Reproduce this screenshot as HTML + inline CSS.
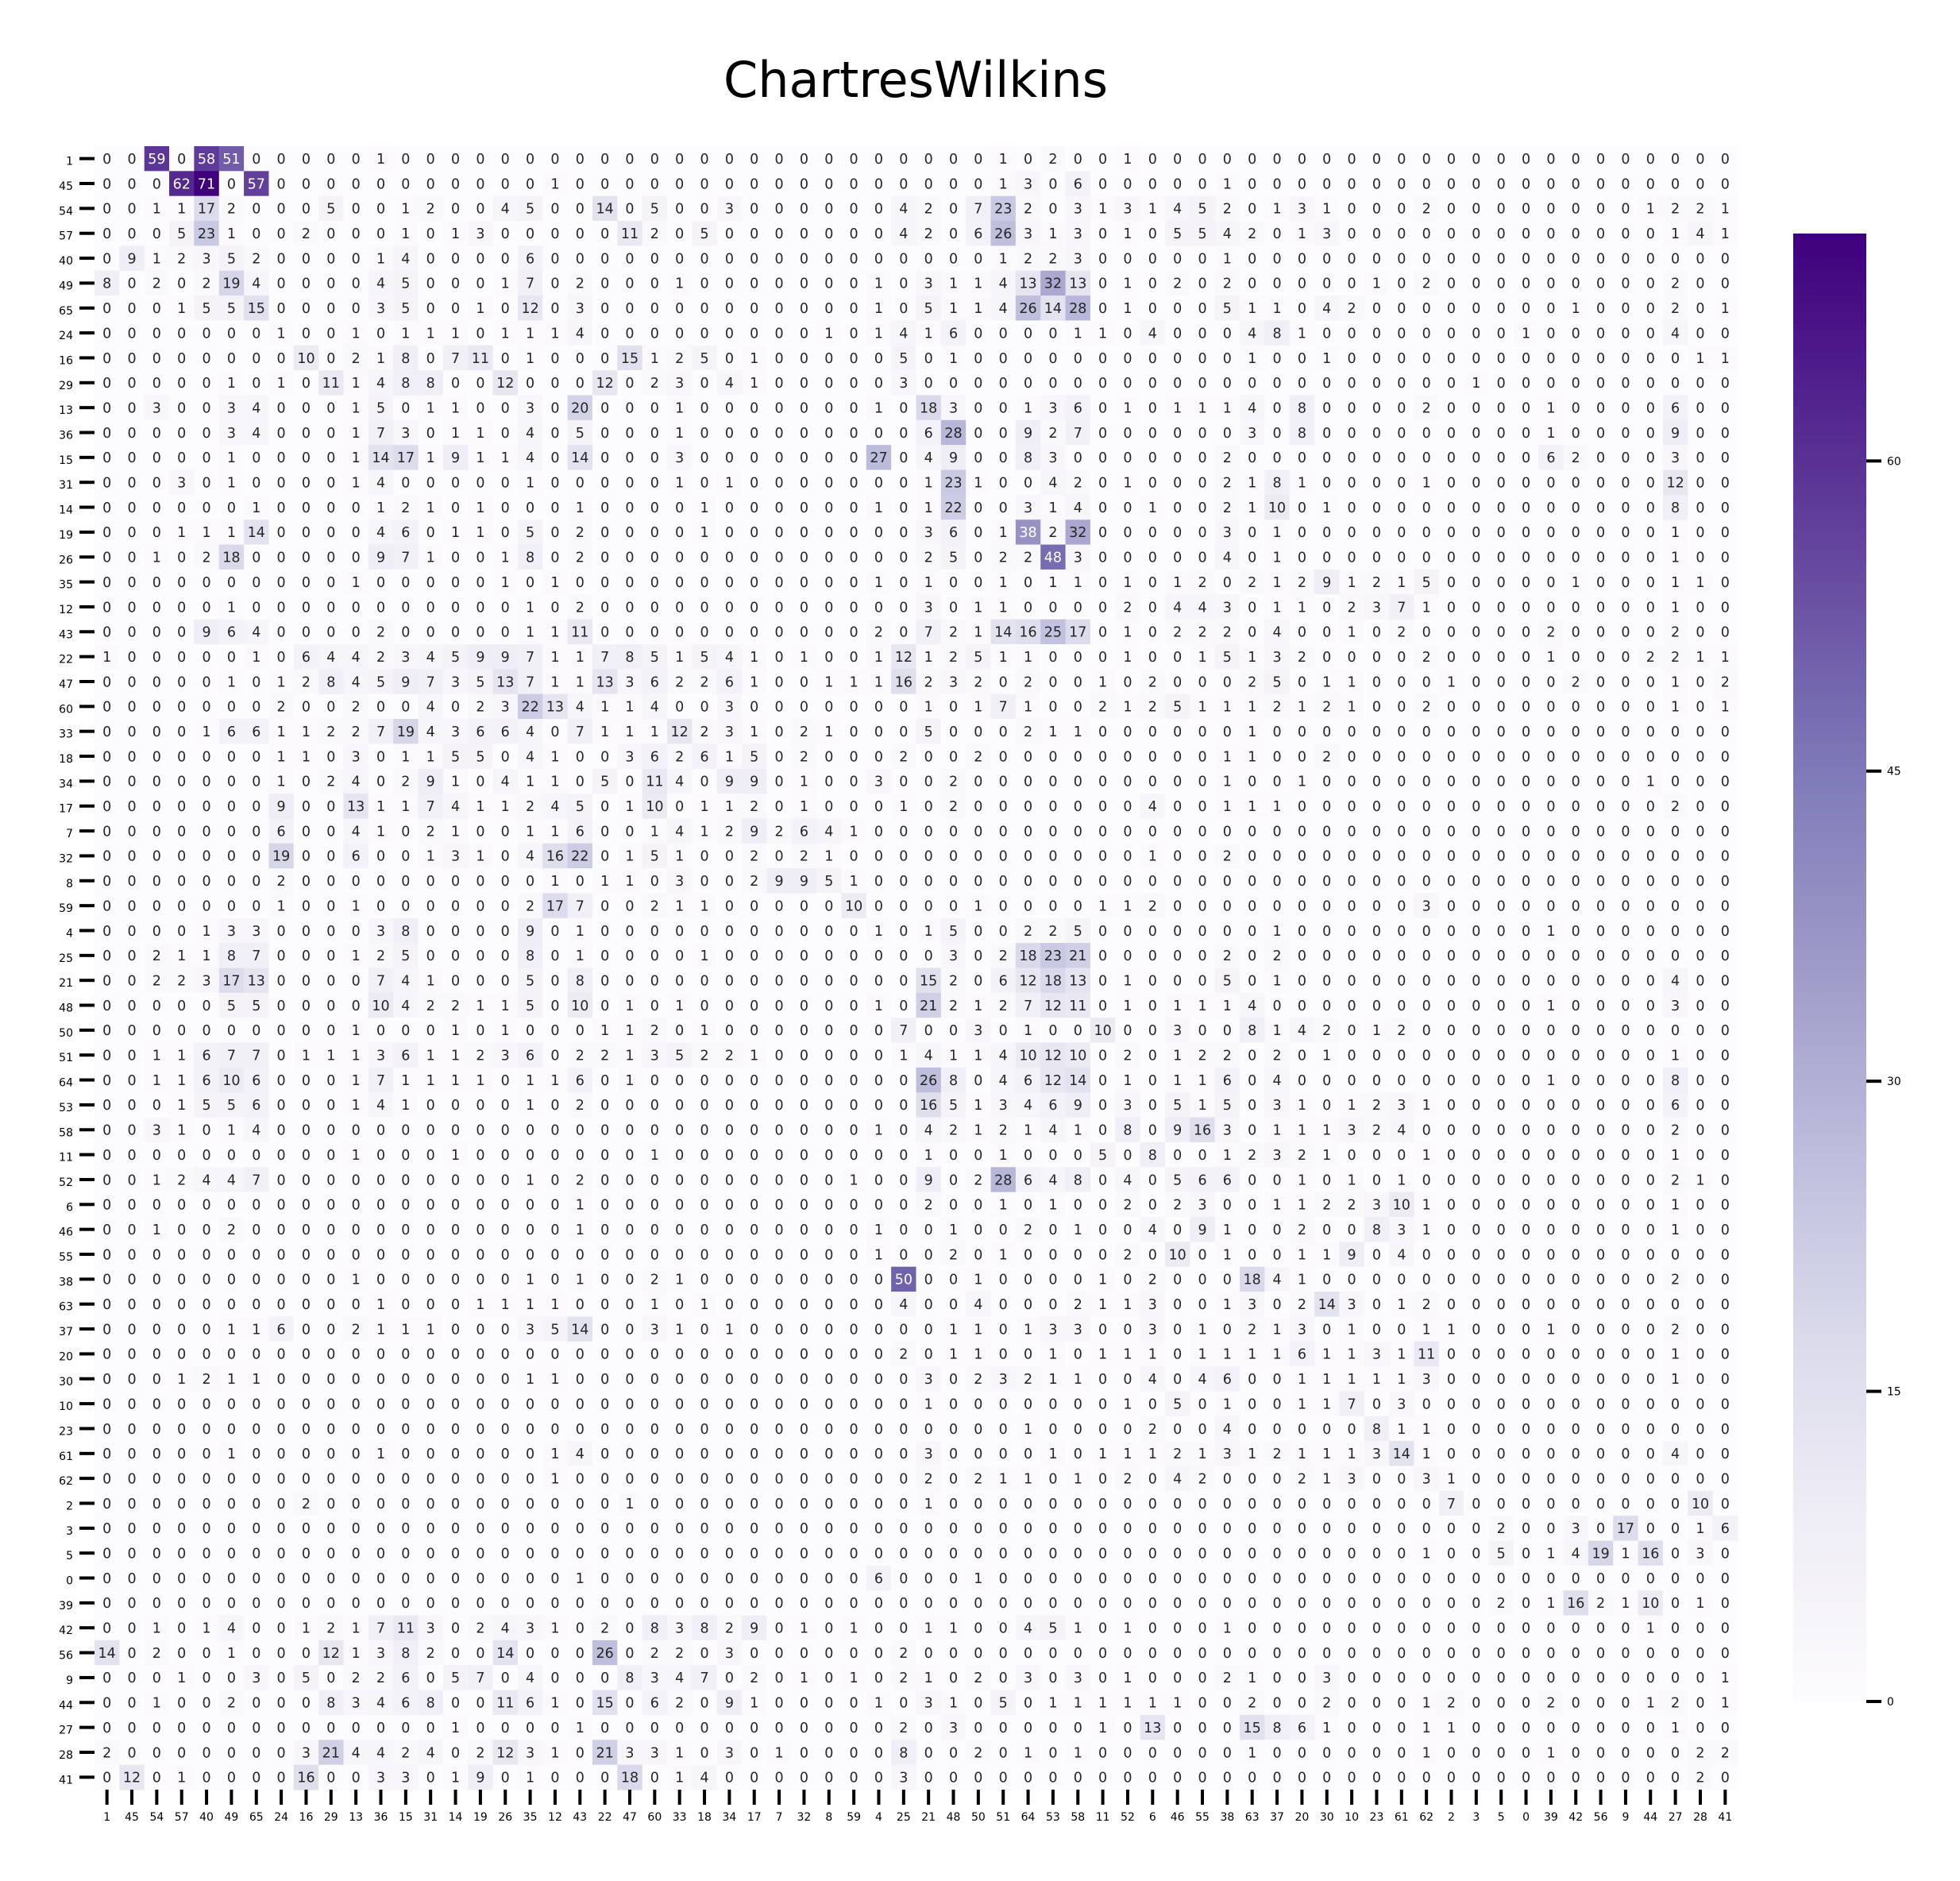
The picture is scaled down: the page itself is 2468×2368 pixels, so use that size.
<!DOCTYPE html>
<html><head><meta charset="utf-8">
<style>
html,body{margin:0;padding:0;background:#fff;}
svg{display:block;font-family:"DejaVu Sans","Liberation Sans",sans-serif;}
</style></head>
<body>
<svg id="chart" width="2468" height="2368" viewBox="0 0 2468 2368" xmlns="http://www.w3.org/2000/svg">
<defs>
<linearGradient id="cbgrad" x1="0" y1="1" x2="0" y2="0">
<stop offset="0" stop-color="#fcfbfd"/><stop offset="0.125" stop-color="#efedf5"/><stop offset="0.25" stop-color="#dadaeb"/><stop offset="0.375" stop-color="#bcbddc"/><stop offset="0.5" stop-color="#9e9ac8"/><stop offset="0.625" stop-color="#807dba"/><stop offset="0.75" stop-color="#6a51a3"/><stop offset="0.875" stop-color="#54278f"/><stop offset="1" stop-color="#3f007d"/>
</linearGradient>
</defs>
<rect width="2468" height="2368" fill="#fff"/>
<text x="1153" y="122" font-size="62" text-anchor="middle" fill="#000">ChartresWilkins</text>
<g id="cells"></g>
<g id="ylabels"></g>
<g id="xlabels"></g>
<g id="cbar">
<rect x="2258" y="294" width="92" height="1848" fill="url(#cbgrad)"/>
</g>
</svg>
<script>
const rowLabels = ["1","45","54","57","40","49","65","24","16","29","13","36","15","31","14","19","26","35","12","43","22","47","60","33","18","34","17","7","32","8","59","4","25","21","48","50","51","64","53","58","11","52","6","46","55","38","63","37","20","30","10","23","61","62","2","3","5","0","39","42","56","9","44","27","28","41"];
const colLabels = rowLabels.slice();
const cbTicks = [0,15,30,45,60];
const vmin = 0;
const vmax = 71;
const values = [
[0,0,59,0,58,51,0,0,0,0,0,1,0,0,0,0,0,0,0,0,0,0,0,0,0,0,0,0,0,0,0,0,0,0,0,0,1,0,2,0,0,1,0,0,0,0,0,0,0,0,0,0,0,0,0,0,0,0,0,0,0,0,0,0,0,0],
[0,0,0,62,71,0,57,0,0,0,0,0,0,0,0,0,0,0,1,0,0,0,0,0,0,0,0,0,0,0,0,0,0,0,0,0,1,3,0,6,0,0,0,0,0,1,0,0,0,0,0,0,0,0,0,0,0,0,0,0,0,0,0,0,0,0],
[0,0,1,1,17,2,0,0,0,5,0,0,1,2,0,0,4,5,0,0,14,0,5,0,0,3,0,0,0,0,0,0,4,2,0,7,23,2,0,3,1,3,1,4,5,2,0,1,3,1,0,0,0,2,0,0,0,0,0,0,0,0,1,2,2,1],
[0,0,0,5,23,1,0,0,2,0,0,0,1,0,1,3,0,0,0,0,0,11,2,0,5,0,0,0,0,0,0,0,4,2,0,6,26,3,1,3,0,1,0,5,5,4,2,0,1,3,0,0,0,0,0,0,0,0,0,0,0,0,0,1,4,1],
[0,9,1,2,3,5,2,0,0,0,0,1,4,0,0,0,0,6,0,0,0,0,0,0,0,0,0,0,0,0,0,0,0,0,0,0,1,2,2,3,0,0,0,0,0,1,0,0,0,0,0,0,0,0,0,0,0,0,0,0,0,0,0,0,0,0],
[8,0,2,0,2,19,4,0,0,0,0,4,5,0,0,0,1,7,0,2,0,0,0,1,0,0,0,0,0,0,0,1,0,3,1,1,4,13,32,13,0,1,0,2,0,2,0,0,0,0,0,1,0,2,0,0,0,0,0,0,0,0,0,2,0,0],
[0,0,0,1,5,5,15,0,0,0,0,3,5,0,0,1,0,12,0,3,0,0,0,0,0,0,0,0,0,0,0,1,0,5,1,1,4,26,14,28,0,1,0,0,0,5,1,1,0,4,2,0,0,0,0,0,0,0,0,1,0,0,0,2,0,1],
[0,0,0,0,0,0,0,1,0,0,1,0,1,1,1,0,1,1,1,4,0,0,0,0,0,0,0,0,0,1,0,1,4,1,6,0,0,0,0,1,1,0,4,0,0,0,4,8,1,0,0,0,0,0,0,0,0,1,0,0,0,0,0,4,0,0],
[0,0,0,0,0,0,0,0,10,0,2,1,8,0,7,11,0,1,0,0,0,15,1,2,5,0,1,0,0,0,0,0,5,0,1,0,0,0,0,0,0,0,0,0,0,0,1,0,0,1,0,0,0,0,0,0,0,0,0,0,0,0,0,0,1,1],
[0,0,0,0,0,1,0,1,0,11,1,4,8,8,0,0,12,0,0,0,12,0,2,3,0,4,1,0,0,0,0,0,3,0,0,0,0,0,0,0,0,0,0,0,0,0,0,0,0,0,0,0,0,0,0,1,0,0,0,0,0,0,0,0,0,0],
[0,0,3,0,0,3,4,0,0,0,1,5,0,1,1,0,0,3,0,20,0,0,0,1,0,0,0,0,0,0,0,1,0,18,3,0,0,1,3,6,0,1,0,1,1,1,4,0,8,0,0,0,0,2,0,0,0,0,1,0,0,0,0,6,0,0],
[0,0,0,0,0,3,4,0,0,0,1,7,3,0,1,1,0,4,0,5,0,0,0,1,0,0,0,0,0,0,0,0,0,6,28,0,0,9,2,7,0,0,0,0,0,0,3,0,8,0,0,0,0,0,0,0,0,0,1,0,0,0,0,9,0,0],
[0,0,0,0,0,1,0,0,0,0,1,14,17,1,9,1,1,4,0,14,0,0,0,3,0,0,0,0,0,0,0,27,0,4,9,0,0,8,3,0,0,0,0,0,0,2,0,0,0,0,0,0,0,0,0,0,0,0,6,2,0,0,0,3,0,0],
[0,0,0,3,0,1,0,0,0,0,1,4,0,0,0,0,0,1,0,0,0,0,0,1,0,1,0,0,0,0,0,0,0,1,23,1,0,0,4,2,0,1,0,0,0,2,1,8,1,0,0,0,0,1,0,0,0,0,0,0,0,0,0,12,0,0],
[0,0,0,0,0,0,1,0,0,0,0,1,2,1,0,1,0,0,0,1,0,0,0,0,1,0,0,0,0,0,0,1,0,1,22,0,0,3,1,4,0,0,1,0,0,2,1,10,0,1,0,0,0,0,0,0,0,0,0,0,0,0,0,8,0,0],
[0,0,0,1,1,1,14,0,0,0,0,4,6,0,1,1,0,5,0,2,0,0,0,0,1,0,0,0,0,0,0,0,0,3,6,0,1,38,2,32,0,0,0,0,0,3,0,1,0,0,0,0,0,0,0,0,0,0,0,0,0,0,0,1,0,0],
[0,0,1,0,2,18,0,0,0,0,0,9,7,1,0,0,1,8,0,2,0,0,0,0,0,0,0,0,0,0,0,0,0,2,5,0,2,2,48,3,0,0,0,0,0,4,0,1,0,0,0,0,0,0,0,0,0,0,0,0,0,0,0,1,0,0],
[0,0,0,0,0,0,0,0,0,0,1,0,0,0,0,0,1,0,1,0,0,0,0,0,0,0,0,0,0,0,0,1,0,1,0,0,1,0,1,1,0,1,0,1,2,0,2,1,2,9,1,2,1,5,0,0,0,0,0,1,0,0,0,1,1,0],
[0,0,0,0,0,1,0,0,0,0,0,0,0,0,0,0,0,1,0,2,0,0,0,0,0,0,0,0,0,0,0,0,0,3,0,1,1,0,0,0,0,2,0,4,4,3,0,1,1,0,2,3,7,1,0,0,0,0,0,0,0,0,0,1,0,0],
[0,0,0,0,9,6,4,0,0,0,0,2,0,0,0,0,0,1,1,11,0,0,0,0,0,0,0,0,0,0,0,2,0,7,2,1,14,16,25,17,0,1,0,2,2,2,0,4,0,0,1,0,2,0,0,0,0,0,2,0,0,0,0,2,0,0],
[1,0,0,0,0,0,1,0,6,4,4,2,3,4,5,9,9,7,1,1,7,8,5,1,5,4,1,0,1,0,0,1,12,1,2,5,1,1,0,0,0,1,0,0,1,5,1,3,2,0,0,0,0,2,0,0,0,0,1,0,0,0,2,2,1,1],
[0,0,0,0,0,1,0,1,2,8,4,5,9,7,3,5,13,7,1,1,13,3,6,2,2,6,1,0,0,1,1,1,16,2,3,2,0,2,0,0,1,0,2,0,0,0,2,5,0,1,1,0,0,0,1,0,0,0,0,2,0,0,0,1,0,2],
[0,0,0,0,0,0,0,2,0,0,2,0,0,4,0,2,3,22,13,4,1,1,4,0,0,3,0,0,0,0,0,0,0,1,0,1,7,1,0,0,2,1,2,5,1,1,1,2,1,2,1,0,0,2,0,0,0,0,0,0,0,0,0,1,0,1],
[0,0,0,0,1,6,6,1,1,2,2,7,19,4,3,6,6,4,0,7,1,1,1,12,2,3,1,0,2,1,0,0,0,5,0,0,0,2,1,1,0,0,0,0,0,0,1,0,0,0,0,0,0,0,0,0,0,0,0,0,0,0,0,0,0,0],
[0,0,0,0,0,0,0,1,1,0,3,0,1,1,5,5,0,4,1,0,0,3,6,2,6,1,5,0,2,0,0,0,2,0,0,2,0,0,0,0,0,0,0,0,0,1,1,0,0,2,0,0,0,0,0,0,0,0,0,0,0,0,0,0,0,0],
[0,0,0,0,0,0,0,1,0,2,4,0,2,9,1,0,4,1,1,0,5,0,11,4,0,9,9,0,1,0,0,3,0,0,2,0,0,0,0,0,0,0,0,0,0,1,0,0,1,0,0,0,0,0,0,0,0,0,0,0,0,0,1,0,0,0],
[0,0,0,0,0,0,0,9,0,0,13,1,1,7,4,1,1,2,4,5,0,1,10,0,1,1,2,0,1,0,0,0,1,0,2,0,0,0,0,0,0,0,4,0,0,1,1,1,0,0,0,0,0,0,0,0,0,0,0,0,0,0,0,2,0,0],
[0,0,0,0,0,0,0,6,0,0,4,1,0,2,1,0,0,1,1,6,0,0,1,4,1,2,9,2,6,4,1,0,0,0,0,0,0,0,0,0,0,0,0,0,0,0,0,0,0,0,0,0,0,0,0,0,0,0,0,0,0,0,0,0,0,0],
[0,0,0,0,0,0,0,19,0,0,6,0,0,1,3,1,0,4,16,22,0,1,5,1,0,0,2,0,2,1,0,0,0,0,0,0,0,0,0,0,0,0,1,0,0,2,0,0,0,0,0,0,0,0,0,0,0,0,0,0,0,0,0,0,0,0],
[0,0,0,0,0,0,0,2,0,0,0,0,0,0,0,0,0,0,1,0,1,1,0,3,0,0,2,9,9,5,1,0,0,0,0,0,0,0,0,0,0,0,0,0,0,0,0,0,0,0,0,0,0,0,0,0,0,0,0,0,0,0,0,0,0,0],
[0,0,0,0,0,0,0,1,0,0,1,0,0,0,0,0,0,2,17,7,0,0,2,1,1,0,0,0,0,0,10,0,0,0,0,1,0,0,0,0,1,1,2,0,0,0,0,0,0,0,0,0,0,3,0,0,0,0,0,0,0,0,0,0,0,0],
[0,0,0,0,1,3,3,0,0,0,0,3,8,0,0,0,0,9,0,1,0,0,0,0,0,0,0,0,0,0,0,1,0,1,5,0,0,2,2,5,0,0,0,0,0,0,0,1,0,0,0,0,0,0,0,0,0,0,1,0,0,0,0,0,0,0],
[0,0,2,1,1,8,7,0,0,0,1,2,5,0,0,0,0,8,0,1,0,0,0,0,1,0,0,0,0,0,0,0,0,0,3,0,2,18,23,21,0,0,0,0,0,2,0,2,0,0,0,0,0,0,0,0,0,0,0,0,0,0,0,0,0,0],
[0,0,2,2,3,17,13,0,0,0,0,7,4,1,0,0,0,5,0,8,0,0,0,0,0,0,0,0,0,0,0,0,0,15,2,0,6,12,18,13,0,1,0,0,0,5,0,1,0,0,0,0,0,0,0,0,0,0,0,0,0,0,0,4,0,0],
[0,0,0,0,0,5,5,0,0,0,0,10,4,2,2,1,1,5,0,10,0,1,0,1,0,0,0,0,0,0,0,1,0,21,2,1,2,7,12,11,0,1,0,1,1,1,4,0,0,0,0,0,0,0,0,0,0,0,1,0,0,0,0,3,0,0],
[0,0,0,0,0,0,0,0,0,0,1,0,0,0,1,0,1,0,0,0,1,1,2,0,1,0,0,0,0,0,0,0,7,0,0,3,0,1,0,0,10,0,0,3,0,0,8,1,4,2,0,1,2,0,0,0,0,0,0,0,0,0,0,0,0,0],
[0,0,1,1,6,7,7,0,1,1,1,3,6,1,1,2,3,6,0,2,2,1,3,5,2,2,1,0,0,0,0,0,1,4,1,1,4,10,12,10,0,2,0,1,2,2,0,2,0,1,0,0,0,0,0,0,0,0,0,0,0,0,0,1,0,0],
[0,0,1,1,6,10,6,0,0,0,1,7,1,1,1,1,0,1,1,6,0,1,0,0,0,0,0,0,0,0,0,0,0,26,8,0,4,6,12,14,0,1,0,1,1,6,0,4,0,0,0,0,0,0,0,0,0,0,1,0,0,0,0,8,0,0],
[0,0,0,1,5,5,6,0,0,0,1,4,1,0,0,0,0,1,0,2,0,0,0,0,0,0,0,0,0,0,0,0,0,16,5,1,3,4,6,9,0,3,0,5,1,5,0,3,1,0,1,2,3,1,0,0,0,0,0,0,0,0,0,6,0,0],
[0,0,3,1,0,1,4,0,0,0,0,0,0,0,0,0,0,0,0,0,0,0,0,0,0,0,0,0,0,0,0,1,0,4,2,1,2,1,4,1,0,8,0,9,16,3,0,1,1,1,3,2,4,0,0,0,0,0,0,0,0,0,0,2,0,0],
[0,0,0,0,0,0,0,0,0,0,1,0,0,0,1,0,0,0,0,0,0,0,1,0,0,0,0,0,0,0,0,0,0,1,0,0,1,0,0,0,5,0,8,0,0,1,2,3,2,1,0,0,0,1,0,0,0,0,0,0,0,0,0,1,0,0],
[0,0,1,2,4,4,7,0,0,0,0,0,0,0,0,0,0,1,0,2,0,0,0,0,0,0,0,0,0,0,1,0,0,9,0,2,28,6,4,8,0,4,0,5,6,6,0,0,1,0,1,0,1,0,0,0,0,0,0,0,0,0,0,2,1,0],
[0,0,0,0,0,0,0,0,0,0,0,0,0,0,0,0,0,0,0,1,0,0,0,0,0,0,0,0,0,0,0,0,0,2,0,0,1,0,1,0,0,2,0,2,3,0,0,1,1,2,2,3,10,1,0,0,0,0,0,0,0,0,0,1,0,0],
[0,0,1,0,0,2,0,0,0,0,0,0,0,0,0,0,0,0,0,1,0,0,0,0,0,0,0,0,0,0,0,1,0,0,1,0,0,2,0,1,0,0,4,0,9,1,0,0,2,0,0,8,3,1,0,0,0,0,0,0,0,0,0,1,0,0],
[0,0,0,0,0,0,0,0,0,0,0,0,0,0,0,0,0,0,0,0,0,0,0,0,0,0,0,0,0,0,0,1,0,0,2,0,1,0,0,0,0,2,0,10,0,1,0,0,1,1,9,0,4,0,0,0,0,0,0,0,0,0,0,0,0,0],
[0,0,0,0,0,0,0,0,0,0,1,0,0,0,0,0,0,1,0,1,0,0,2,1,0,0,0,0,0,0,0,0,50,0,0,1,0,0,0,0,1,0,2,0,0,0,18,4,1,0,0,0,0,0,0,0,0,0,0,0,0,0,0,2,0,0],
[0,0,0,0,0,0,0,0,0,0,0,1,0,0,0,1,1,1,1,0,0,0,1,0,1,0,0,0,0,0,0,0,4,0,0,4,0,0,0,2,1,1,3,0,0,1,3,0,2,14,3,0,1,2,0,0,0,0,0,0,0,0,0,0,0,0],
[0,0,0,0,0,1,1,6,0,0,2,1,1,1,0,0,0,3,5,14,0,0,3,1,0,1,0,0,0,0,0,0,0,0,1,1,0,1,3,3,0,0,3,0,1,0,2,1,3,0,1,0,0,1,1,0,0,0,1,0,0,0,0,2,0,0],
[0,0,0,0,0,0,0,0,0,0,0,0,0,0,0,0,0,0,0,0,0,0,0,0,0,0,0,0,0,0,0,0,2,0,1,1,0,0,1,0,1,1,1,0,1,1,1,1,6,1,1,3,1,11,0,0,0,0,0,0,0,0,0,1,0,0],
[0,0,0,1,2,1,1,0,0,0,0,0,0,0,0,0,0,1,1,0,0,0,0,0,0,0,0,0,0,0,0,0,0,3,0,2,3,2,1,1,0,0,4,0,4,6,0,0,1,1,1,1,1,3,0,0,0,0,0,0,0,0,0,1,0,0],
[0,0,0,0,0,0,0,0,0,0,0,0,0,0,0,0,0,0,0,0,0,0,0,0,0,0,0,0,0,0,0,0,0,1,0,0,0,0,0,0,0,1,0,5,0,1,0,0,1,1,7,0,3,0,0,0,0,0,0,0,0,0,0,0,0,0],
[0,0,0,0,0,0,0,0,0,0,0,0,0,0,0,0,0,0,0,0,0,0,0,0,0,0,0,0,0,0,0,0,0,0,0,0,0,1,0,0,0,0,2,0,0,4,0,0,0,0,0,8,1,1,0,0,0,0,0,0,0,0,0,0,0,0],
[0,0,0,0,0,1,0,0,0,0,0,1,0,0,0,0,0,0,1,4,0,0,0,0,0,0,0,0,0,0,0,0,0,3,0,0,0,0,1,0,1,1,1,2,1,3,1,2,1,1,1,3,14,1,0,0,0,0,0,0,0,0,0,4,0,0],
[0,0,0,0,0,0,0,0,0,0,0,0,0,0,0,0,0,0,1,0,0,0,0,0,0,0,0,0,0,0,0,0,0,2,0,2,1,1,0,1,0,2,0,4,2,0,0,0,2,1,3,0,0,3,1,0,0,0,0,0,0,0,0,0,0,0],
[0,0,0,0,0,0,0,0,2,0,0,0,0,0,0,0,0,0,0,0,0,1,0,0,0,0,0,0,0,0,0,0,0,1,0,0,0,0,0,0,0,0,0,0,0,0,0,0,0,0,0,0,0,0,7,0,0,0,0,0,0,0,0,0,10,0],
[0,0,0,0,0,0,0,0,0,0,0,0,0,0,0,0,0,0,0,0,0,0,0,0,0,0,0,0,0,0,0,0,0,0,0,0,0,0,0,0,0,0,0,0,0,0,0,0,0,0,0,0,0,0,0,0,2,0,0,3,0,17,0,0,1,6],
[0,0,0,0,0,0,0,0,0,0,0,0,0,0,0,0,0,0,0,0,0,0,0,0,0,0,0,0,0,0,0,0,0,0,0,0,0,0,0,0,0,0,0,0,0,0,0,0,0,0,0,0,0,1,0,0,5,0,1,4,19,1,16,0,3,0],
[0,0,0,0,0,0,0,0,0,0,0,0,0,0,0,0,0,0,0,1,0,0,0,0,0,0,0,0,0,0,0,6,0,0,0,1,0,0,0,0,0,0,0,0,0,0,0,0,0,0,0,0,0,0,0,0,0,0,0,0,0,0,0,0,0,0],
[0,0,0,0,0,0,0,0,0,0,0,0,0,0,0,0,0,0,0,0,0,0,0,0,0,0,0,0,0,0,0,0,0,0,0,0,0,0,0,0,0,0,0,0,0,0,0,0,0,0,0,0,0,0,0,0,2,0,1,16,2,1,10,0,1,0],
[0,0,1,0,1,4,0,0,1,2,1,7,11,3,0,2,4,3,1,0,2,0,8,3,8,2,9,0,1,0,1,0,0,1,1,0,0,4,5,1,0,1,0,0,0,1,0,0,0,0,0,0,0,0,0,0,0,0,0,0,0,0,1,0,0,0],
[14,0,2,0,0,1,0,0,0,12,1,3,8,2,0,0,14,0,0,0,26,0,2,2,0,3,0,0,0,0,0,0,2,0,0,0,0,0,0,0,0,0,0,0,0,0,0,0,0,0,0,0,0,0,0,0,0,0,0,0,0,0,0,0,0,0],
[0,0,0,1,0,0,3,0,5,0,2,2,6,0,5,7,0,4,0,0,0,8,3,4,7,0,2,0,1,0,1,0,2,1,0,2,0,3,0,3,0,1,0,0,0,2,1,0,0,3,0,0,0,0,0,0,0,0,0,0,0,0,0,0,0,1],
[0,0,1,0,0,2,0,0,0,8,3,4,6,8,0,0,11,6,1,0,15,0,6,2,0,9,1,0,0,0,0,1,0,3,1,0,5,0,1,1,1,1,1,1,0,0,2,0,0,2,0,0,0,1,2,0,0,0,2,0,0,0,1,2,0,1],
[0,0,0,0,0,0,0,0,0,0,0,0,0,0,1,0,0,0,0,1,0,0,0,0,0,0,0,0,0,0,0,0,2,0,3,0,0,0,0,0,1,0,13,0,0,0,15,8,6,1,0,0,0,1,1,0,0,0,0,0,0,0,0,1,0,0],
[2,0,0,0,0,0,0,0,3,21,4,4,2,4,0,2,12,3,1,0,21,3,3,1,0,3,0,1,0,0,0,0,8,0,0,2,0,1,0,1,0,0,0,0,0,0,1,0,0,0,0,0,0,1,0,0,0,0,1,0,0,0,0,0,2,2],
[0,12,0,1,0,0,0,0,16,0,0,3,3,0,1,9,0,1,0,0,0,18,0,1,4,0,0,0,0,0,0,0,3,0,0,0,0,0,0,0,0,0,0,0,0,0,0,0,0,0,0,0,0,0,0,0,0,0,0,0,0,0,0,0,2,0]
];

const NS = "http://www.w3.org/2000/svg";
const X0 = 119, Y0 = 184, CW = 2069 / 66, CH = 2069 / 66;
const CB_TOP = 294, CB_BOT = 2142;
function xPos(i){ return X0 + i * CW; }
function yPos(j){ return Y0 + j * CH; }
function cbY(v){ return CB_BOT - (v - vmin) / (vmax - vmin) * (CB_BOT - CB_TOP); }
const stops = ["#fcfbfd","#efedf5","#dadaeb","#bcbddc","#9e9ac8","#807dba","#6a51a3","#54278f","#3f007d"].map(h=>[parseInt(h.slice(1,3),16),parseInt(h.slice(3,5),16),parseInt(h.slice(5,7),16)]);
function colorRGB(v){
  let t = Math.max(0, Math.min(1, (v - vmin) / (vmax - vmin))) * (stops.length - 1);
  let k = Math.min(stops.length - 2, Math.floor(t)); let f = t - k;
  return stops[k].map((c, m) => Math.round(c + (stops[k+1][m] - c) * f));
}
function lum(rgb){
  const l = rgb.map(c => { c /= 255; return c <= 0.03928 ? c / 12.92 : Math.pow((c + 0.055) / 1.055, 2.4); });
  return 0.2126*l[0] + 0.7152*l[1] + 0.0722*l[2];
}
function mk(tag, attrs, parent){
  const el = document.createElementNS(NS, tag);
  for (const k in attrs) el.setAttribute(k, attrs[k]);
  parent.appendChild(el); return el;
}
const gCells = document.getElementById('cells');
for (let r = 0; r < rowLabels.length; r++) {
  const row = values[r] || [];
  for (let c = 0; c < colLabels.length; c++) {
    const v = row[c] || 0;
    const rgb = colorRGB(v);
    const rect = mk('rect', {x: xPos(c).toFixed(2), y: yPos(r).toFixed(2), width: (CW + 0.6).toFixed(2), height: (CH + 0.6).toFixed(2), fill: 'rgb(' + rgb.join(',') + ')'}, gCells);
    
    
    const t = mk('text', {x: (xPos(c) + CW/2).toFixed(2), y: (yPos(r) + CH/2 + 6.3).toFixed(2), 'font-size': '17.5', 'text-anchor': 'middle', fill: lum(rgb) > 0.408 ? '#262626' : '#ffffff'}, gCells);
    t.textContent = String(v);
    
    
  }
}
const gY = document.getElementById('ylabels');
rowLabels.forEach((lab, r) => {
  const cy = yPos(r) + CH/2;
  const tk = mk('rect', {x: 100, y: (cy - 2).toFixed(2), width: 19, height: 4, fill: '#000'}, gY);
  
  
  const t = mk('text', {x: 92, y: (cy + 8).toFixed(2), 'font-size': '14', 'text-anchor': 'end', fill: '#000'}, gY);
  t.textContent = lab;
  
  
});
const gX = document.getElementById('xlabels');
colLabels.forEach((lab, c) => {
  const cx = xPos(c) + CW/2;
  const tk = mk('rect', {x: (cx - 2).toFixed(2), y: 2253, width: 4, height: 19, fill: '#000'}, gX);
  
  
  const t = mk('text', {x: cx.toFixed(2), y: 2292, 'font-size': '14', 'text-anchor': 'middle', fill: '#000'}, gX);
  t.textContent = lab;
  
  
});
const gCb = document.getElementById('cbar');
cbTicks.forEach(v => {
  const y = cbY(v);
  const tk = mk('rect', {x: 2350, y: (y - 2).toFixed(2), width: 19, height: 4, fill: '#000'}, gCb);
  
  
  const t = mk('text', {x: 2376, y: (y + 5).toFixed(2), 'font-size': '14', fill: '#000'}, gCb);
  t.textContent = String(v);
  
  
});
</script>
</body></html>
